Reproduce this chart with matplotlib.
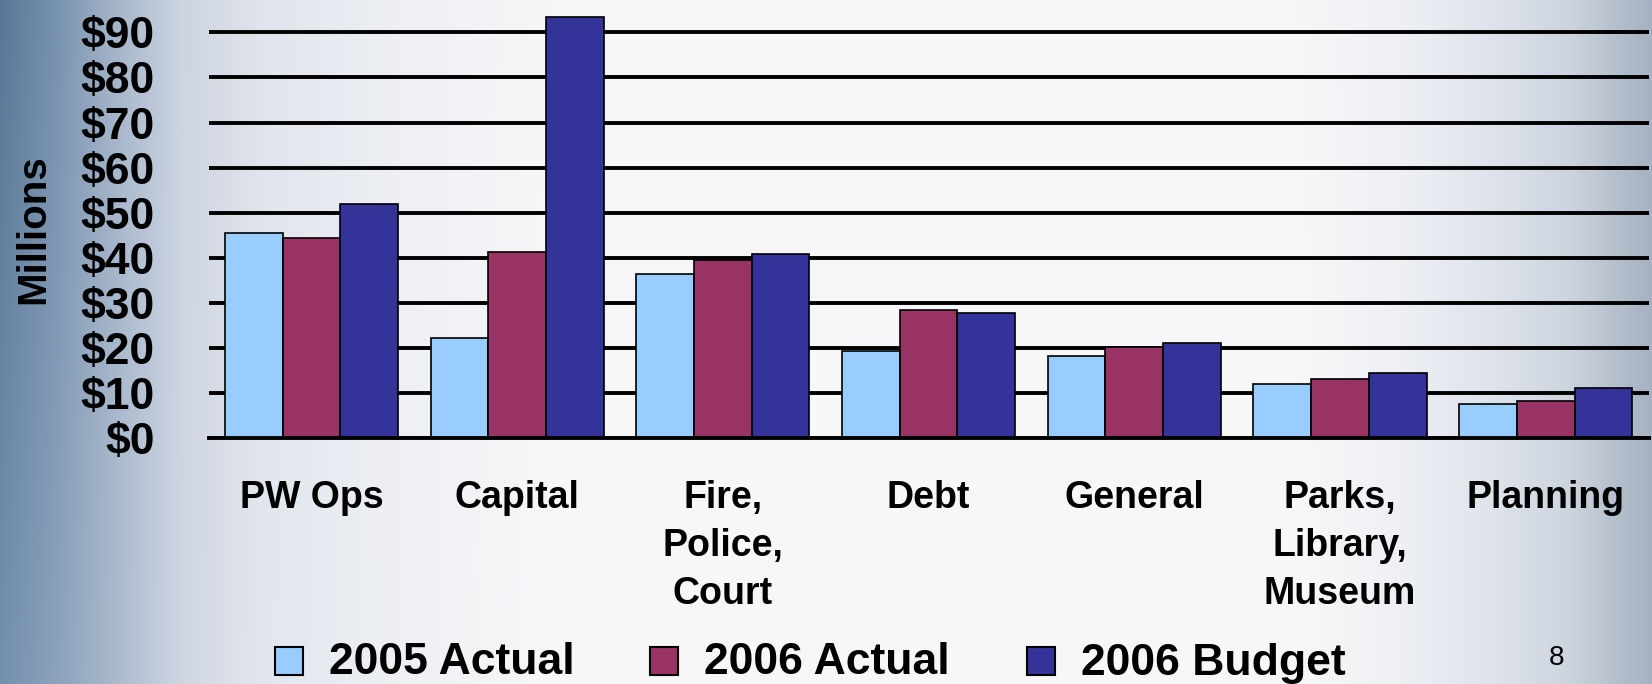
import numpy as np
import matplotlib
matplotlib.use("Agg")
import matplotlib.pyplot as plt
from matplotlib.colors import to_rgb
from matplotlib.patches import Rectangle

plt.rcParams['font.family'] = ['Liberation Sans', 'DejaVu Sans']

# ---- data ----
categories = ["PW Ops", "Capital", "Fire,\nPolice,\nCourt", "Debt", "General",
              "Parks,\nLibrary,\nMuseum", "Planning"]
series_names = ["2005 Actual", "2006 Actual", "2006 Budget"]
actual_2005 = [45.5, 22.2, 36.4, 19.4, 18.2, 12.0, 7.5]
actual_2006 = [44.3, 41.3, 39.5, 28.4, 20.2, 13.1, 8.3]
budget_2006 = [52.0, 93.4, 40.9, 27.8, 21.1, 14.5, 11.1]
ytick_values = [0, 10, 20, 30, 40, 50, 60, 70, 80, 90]
ytick_labels = ["$0", "$10", "$20", "$30", "$40", "$50", "$60", "$70", "$80", "$90"]
page_number = "8"

colors = ["#99CCFF", "#993366", "#333399"]

W, H = 1652, 684
fig = plt.figure(figsize=(W / 100, H / 100), dpi=100)

# ---- background gradient ----
bg = fig.add_axes([0, 0, 1, 1], zorder=0)
xs = np.arange(W)
top_stops = [(0, "#587696"), (60, "#7a94b0"), (120, "#a8b8cc"), (180, "#ccd4e0"),
             (260, "#e0e4ec"), (400, "#eef0f4"), (550, "#f6f6f8"),
             (1300, "#f6f6f8"), (1400, "#eef0f4"), (1500, "#dde2ea"),
             (1570, "#ccd4de"), (1610, "#b8c2ce"), (1651, "#a6b2c2")]
bot_stops = [(0, "#7490ac"), (60, "#8ea4bc"), (120, "#adbccf"), (180, "#cfd6e2"),
             (260, "#e2e6ee"), (400, "#eef0f4"), (550, "#f8f8f8"),
             (1300, "#f8f8f8"), (1400, "#eef0f4"), (1500, "#dde2ea"),
             (1570, "#ccd4de"), (1610, "#b8c2ce"), (1651, "#a6b2c2")]


def profile(stops):
    pos = [s[0] for s in stops]
    cols = np.array([to_rgb(s[1]) for s in stops])
    return np.stack([np.interp(xs, pos, cols[:, i]) for i in range(3)], axis=1)


top = profile(top_stops)
bot = profile(bot_stops)
t = np.linspace(0, 1, H)[:, None, None]
img = top[None] * (1 - t) + bot[None] * t
bg.imshow(img, aspect="auto", extent=[0, 1, 0, 1])
bg.axis("off")

# ---- main axes ----
ax_left, ax_right = 208.6, 1648.6
y0_px, ytop_px = 438.3, 5.3
ax = fig.add_axes([ax_left / W, 1 - y0_px / H, (ax_right - ax_left) / W,
                   (y0_px - ytop_px) / H], zorder=1)
ax.patch.set_alpha(0)

x = np.arange(len(categories))
bw = 0.2805
for i, (vals, c) in enumerate(zip([actual_2005, actual_2006, budget_2006], colors)):
    ax.bar(x + (i - 1) * bw, vals, width=bw, color=c, edgecolor="black",
           linewidth=1.2, zorder=2)

ax.set_xlim(-0.5, len(categories) - 0.5)
ax.set_ylim(0, 96)
ax.set_yticks(ytick_values)
ax.set_yticklabels(ytick_labels, fontsize=32, fontweight="bold")
ax.set_xticks(x)
ax.set_xticklabels(categories, fontsize=27, fontweight="bold", linespacing=1.43)
ax.tick_params(axis="y", length=0, pad=39)
ax.tick_params(axis="x", length=0, pad=30)
ax.yaxis.grid(True, color="black", linewidth=2.8)
ax.set_axisbelow(True)
ax.axhline(0, color="black", linewidth=2.8, clip_on=False, zorder=3)
for s in ax.spines.values():
    s.set_visible(False)

# y label
fig.text(33 / W, 1 - 229 / H, "Millions", rotation=90, ha="center", va="center",
         fontsize=29, fontweight="bold", zorder=5)

# ---- legend ----
sq_x = [275, 650, 1027]
txt_x = [329, 704, 1081]
for name, c, sx, tx in zip(series_names, colors, sq_x, txt_x):
    fig.patches.append(Rectangle((sx / W, 1 - 674.5 / H), 28 / W, 28 / H,
                                 transform=fig.transFigure, facecolor=c,
                                 edgecolor="black", linewidth=1.5, zorder=5))
    fig.text(tx / W, 1 - 674.5 / H, name, ha="left", va="baseline", fontsize=32,
             fontweight="bold", zorder=5)

fig.text(1549 / W, 1 - 665 / H, page_number, ha="left", va="baseline", fontsize=20,
         zorder=5)

fig.savefig("out.png", dpi=100)
